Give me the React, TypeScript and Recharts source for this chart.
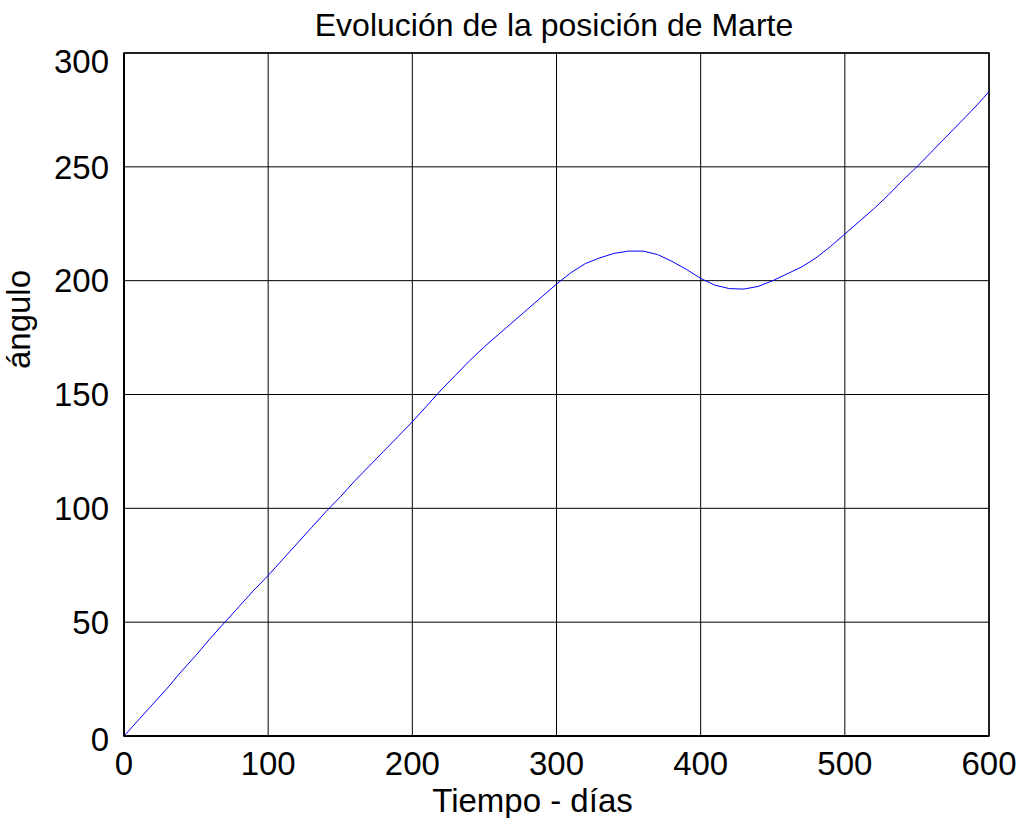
import { CartesianGrid, Line, LineChart, ReferenceArea, XAxis, YAxis } from "recharts";

// días transcurridos
const dias = [
    0, 10, 20, 30, 40, 50, 60, 70, 80, 90,
    100, 110, 120, 130, 140, 150, 160, 170, 180, 190,
    200, 210, 220, 230, 240, 250, 260, 270, 280, 290,
    300, 310, 320, 330, 340, 350, 360, 370, 380, 390,
    400, 410, 420, 430, 440, 450, 460, 470, 480, 490,
    500, 510, 520, 530, 540, 550, 560, 570, 580, 590,
    600,
];

// ángulo de Marte (grados)
const angulo = [
    0, 7, 14, 21, 28.5, 35.5, 43, 50, 57, 64,
    70.5, 77.5, 84.5, 91.5, 98.5, 105, 112, 118.5, 125, 131.5,
    138, 145, 152, 158.5, 165, 171, 176.5, 182, 187.5, 193,
    198.5, 203.5, 207.5, 210, 212, 213, 213, 211.5, 208.5, 205,
    201, 198, 196.5, 196.3, 197.5, 200, 203, 206, 210, 215,
    220.5, 226, 231.5, 237.5, 244, 250, 256.5, 263, 269.5, 276,
    283,
];

const xTicks = [0, 100, 200, 300, 400, 500, 600];
const yTicks = [0, 50, 100, 150, 200, 250, 300];

const data = dias.map((d, i) => ({ dia: d, angulo: angulo[i] }));

const FONT = "'Liberation Sans', Arial, Helvetica, sans-serif";

function YTick(props: any) {
    const { x, y, payload } = props;
    // las etiquetas de los extremos quedan algo desplazadas hacia abajo
    let dy = 0;
    if (payload.value === 300) dy = 8;
    if (payload.value === 0) dy = 3;
    return (
        <text x={x} y={y + dy} dy="0.355em" textAnchor="end" fontSize={33} fontFamily={FONT} fill="#000">
            {payload.value}
        </text>
    );
}

export default function App() {
    return (
        <div style={{ position: "absolute", left: 0, top: 0, width: 1027, height: 818, background: "#fff" }}>
            <LineChart
                width={1027}
                height={818}
                data={data}
                margin={{ top: 53, right: 38, bottom: 0, left: 0 }}
            >
                <CartesianGrid stroke="#000" strokeWidth={1} />
                <XAxis
                    dataKey="dia"
                    type="number"
                    domain={[0, 600]}
                    ticks={xTicks}
                    interval={0}
                    height={82}
                    tickLine={false}
                    axisLine={{ stroke: "#000", strokeWidth: 2 }}
                    tickSize={6}
                    tickMargin={10}
                    tick={{ fontSize: 33, fontFamily: FONT, fill: "#000" }}
                    label={{
                        value: "Tiempo - días",
                        position: "insideBottom",
                        offset: 6,
                        dx: -24,
                        style: { fontSize: 33, fontFamily: FONT, fill: "#000" },
                    }}
                />
                <YAxis
                    type="number"
                    domain={[0, 300]}
                    ticks={yTicks}
                    interval={0}
                    width={124}
                    tickLine={false}
                    axisLine={{ stroke: "#000", strokeWidth: 2 }}
                    tickSize={6}
                    tickMargin={9}
                    tick={<YTick />}
                    label={{
                        value: "ángulo",
                        angle: -90,
                        position: "insideLeft",
                        offset: 18,
                        dy: -75,
                        style: { fontSize: 33, fontFamily: FONT, fill: "#000", textAnchor: "middle" },
                    }}
                />
                <ReferenceArea x1={0} x2={600} y1={0} y2={300} fill="none" stroke="#000" strokeWidth={1.5} ifOverflow="visible" />
                <Line
                    type="linear"
                    dataKey="angulo"
                    stroke="#0000ff"
                    strokeWidth={1}
                    dot={false}
                    isAnimationActive={false}
                />
                <text x={554} y={36} textAnchor="middle" fontSize={32} fontFamily={FONT} fill="#000">
                    Evolución de la posición de Marte
                </text>
            </LineChart>
        </div>
    );
}
